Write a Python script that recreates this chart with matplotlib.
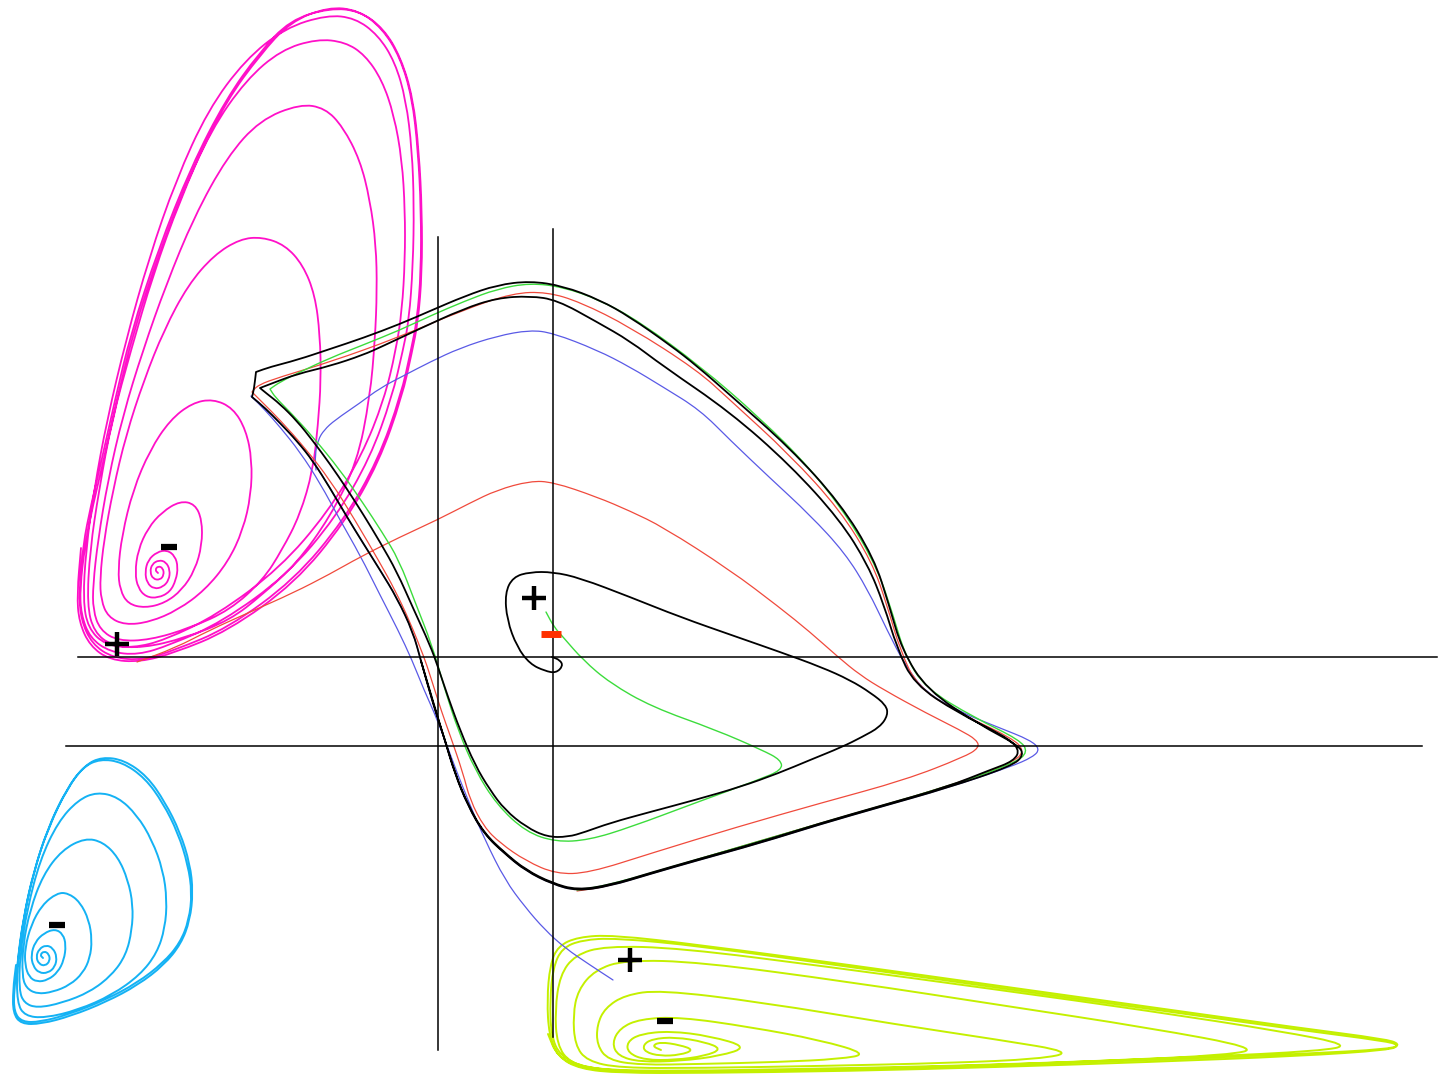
import numpy as np
import matplotlib.pyplot as plt
from matplotlib.path import Path
from matplotlib.patches import PathPatch

# phase portrait, coordinates (x right, y down)

magenta_spiral = [
    (158, 573), (155, 570), (158, 566), (163, 568), (164, 575), (160, 580), (153, 579), (150, 572),
    (152, 564), (159, 560), (166, 562), (170, 570), (169, 580), (163, 587), (154, 589), (147, 583),
    (145, 572), (148, 560), (157, 552), (167, 550), (175, 556), (178, 567), (176, 580), (170, 592),
    (158, 598), (146, 597), (138, 588), (135, 573),
    (138, 550), (148, 528), (162, 512), (180, 501), (195, 504), (202, 520), (202, 545), (195, 570),
    (182, 590), (165, 603), (145, 608), (128, 604), (120, 590), (118, 570),
    (122, 535), (133, 490), (150, 450), (170, 420), (192, 403), (213, 399), (233, 408), (246, 430),
    (252, 460), (251, 495), (243, 530), (228, 562), (205, 590), (178, 610), (150, 622), (125, 625),
    (108, 617), (101, 600), (100, 578),
    (104, 540), (113, 490), (126, 435), (144, 380), (164, 330), (188, 285), (214, 255), (240, 239),
    (262, 237), (285, 245), (303, 265), (315, 295), (320, 335), (321, 380), (318, 425), (313, 470),
    (300, 515), (282, 550), (263, 580), (230, 610), (190, 628), (150, 640), (118, 641), (100, 630),
    (93, 610), (93, 585),
    (98, 540), (108, 480), (123, 415), (143, 350), (166, 285), (194, 217), (227, 157), (260, 120),
    (300, 104), (325, 108), (343, 127), (360, 160), (370, 200), (376, 245), (377, 290), (375, 340),
    (370, 397), (357, 463), (330, 517), (297, 563), (262, 595), (230, 620), (185, 638), (143, 648),
    (112, 646), (94, 632), (87, 605),
    (90, 550), (99, 490), (112, 420), (131, 350), (153, 275), (180, 200), (211, 130), (246, 80),
    (281, 50), (317, 39), (345, 42), (365, 55), (382, 80), (394, 115), (402, 160), (405, 210),
    (405, 260), (402, 310), (396, 350), (384, 400), (362, 455), (328, 512), (280, 568), (217, 615),
    (165, 640), (133, 648), (105, 645), (88, 628), (83, 600),
    (86, 550), (94, 490), (107, 420), (126, 340), (149, 258), (176, 180), (208, 110), (245, 60),
    (285, 28), (327, 15), (355, 18), (378, 35), (395, 62), (406, 100), (412, 150), (414, 205),
    (413, 265), (409, 320), (403, 350), (392, 397), (370, 458), (336, 517), (287, 575), (222, 622),
    (170, 645), (138, 655), (110, 652), (90, 638), (81, 614), (80, 588),
    (85, 545), (93, 505), (103, 463), (117, 400), (133, 333), (160, 250), (193, 167), (227, 100),
    (260, 55), (290, 22), (328, 7), (358, 10), (382, 28), (400, 57), (412, 97), (418, 150),
    (421, 210), (421, 272), (417, 320), (411, 350), (401, 395), (378, 460), (344, 520), (294, 580),
    (228, 628), (175, 650), (143, 660), (113, 658), (92, 644), (81, 620), (79, 592),
    (83, 545), (91, 505), (101, 463), (115, 400), (131, 333), (158, 250), (191, 167), (226, 99),
    (259, 53), (290, 20), (330, 8), (360, 11), (384, 29), (401, 58), (413, 98), (419, 152),
    (422, 212), (422, 273), (418, 322), (412, 352), (402, 397), (379, 462), (345, 522), (295, 583),
    (228, 631), (174, 653), (140, 662), (110, 660), (90, 646), (79, 622), (77, 594), (81, 548),
]

cyan_spiral = [
    (43, 958), (40, 955), (44, 951), (49, 954), (50, 961), (45, 966), (39, 964), (36, 957),
    (39, 949), (46, 945), (53, 948), (57, 957), (55, 967), (48, 973), (39, 973), (33, 966),
    (31, 955), (35, 942), (44, 933), (55, 929), (63, 934), (66, 945), (64, 960), (58, 972),
    (48, 980), (37, 982), (29, 977), (25, 965),
    (25, 948), (31, 925), (42, 905), (57, 893), (68, 893), (80, 902), (89, 920), (92, 940),
    (90, 958), (83, 973), (70, 985), (53, 992), (37, 994), (26, 988), (22, 975),
    (23, 945), (30, 910), (43, 875), (62, 850), (85, 838), (103, 842), (118, 857), (128, 880),
    (133, 905), (132, 930), (126, 955), (112, 975), (90, 992), (62, 1003), (37, 1008), (24, 1003),
    (19, 990),
    (20, 955), (27, 910), (40, 860), (58, 822), (78, 800), (97, 792), (118, 797), (137, 815),
    (152, 840), (163, 870), (167, 900), (165, 928), (157, 953), (140, 975), (112, 995), (78, 1010),
    (45, 1018), (25, 1016), (17, 1003),
    (17, 965), (23, 920), (33, 875), (47, 830), (66, 790), (83, 767), (100, 759), (122, 762),
    (145, 778), (163, 803), (178, 833), (188, 865), (192, 893), (189, 920), (180, 943), (163, 963),
    (137, 983), (105, 1000), (70, 1014), (40, 1022), (22, 1022), (14, 1012), (14, 990),
    (18, 960), (24, 915), (34, 870), (49, 826), (68, 787), (85, 765), (102, 757), (124, 760),
    (147, 776), (165, 802), (180, 832), (190, 864), (193, 892), (190, 920), (181, 944), (164, 965),
    (138, 985), (106, 1002), (71, 1016), (41, 1024), (21, 1024), (13, 1013), (13, 990), (16, 965),
]

yellow_spiral = [
    (661, 1050), (652, 1046), (660, 1042), (680, 1045), (694, 1050), (680, 1055), (660, 1056),
    (645, 1052), (643, 1045), (652, 1039), (675, 1037), (705, 1042), (722, 1049), (705, 1056),
    (675, 1060), (645, 1060), (628, 1053), (627, 1042), (640, 1034),
    (670, 1031), (710, 1036), (748, 1047), (720, 1056), (680, 1061), (640, 1062), (618, 1056),
    (612, 1043), (620, 1028), (640, 1019),
    (680, 1017), (750, 1027), (820, 1040), (868, 1054), (840, 1059), (780, 1062), (700, 1064),
    (640, 1065), (608, 1060), (597, 1045), (597, 1025), (605, 1008), (625, 995),
    (660, 990), (760, 1002), (900, 1025), (1000, 1040), (1073, 1052), (1040, 1059), (950, 1063),
    (820, 1066), (700, 1068), (620, 1068), (587, 1061), (575, 1045), (573, 1015), (578, 990),
    (595, 970), (625, 960),
    (700, 962), (850, 982), (1000, 1005), (1150, 1028), (1258, 1048), (1230, 1055), (1100, 1061),
    (950, 1066), (800, 1069), (680, 1071), (600, 1070), (570, 1063), (557, 1045), (555, 1010),
    (560, 975), (575, 955), (605, 946),
    (680, 948), (830, 967), (1000, 990), (1150, 1011), (1280, 1031), (1351, 1045), (1320, 1051),
    (1200, 1057), (1050, 1063), (900, 1068), (750, 1071), (640, 1072), (585, 1068), (560, 1056),
    (551, 1035), (550, 1000), (553, 968), (562, 948), (582, 940), (615, 938),
    (700, 946), (850, 967), (1000, 988), (1150, 1009), (1300, 1030), (1385, 1041), (1399, 1045),
    (1390, 1050), (1300, 1056), (1150, 1062), (1000, 1067), (850, 1071), (700, 1073), (620, 1073),
    (580, 1069), (558, 1057), (549, 1035), (547, 1000), (550, 965), (558, 946), (578, 937),
    (613, 935),
    (700, 945), (850, 965), (1000, 986), (1150, 1007), (1300, 1028), (1385, 1039), (1400, 1044),
    (1392, 1049), (1300, 1054), (1150, 1060), (1000, 1065), (850, 1070), (700, 1072), (620, 1072),
    (580, 1068), (557, 1056), (548, 1034),
]

# a repeated point keeps a sharp corner in the drawn curve
blue_orbit = [
    (316, 470), (315, 455), (318, 440), (324, 430), (335, 420), (360, 403), (380, 388), (405, 375),
    (430, 362), (460, 348), (497, 336), (530, 330), (553, 333), (597, 350), (630, 367), (663, 387),
    (700, 410), (730, 440), (770, 478), (810, 515), (845, 553), (868, 590), (887, 630), (905, 665),
    (925, 692), (960, 712), (1000, 728), (1030, 740), (1040, 749), (1033, 757), (1010, 767),
    (947, 788), (880, 807), (821, 824), (760, 843), (695, 861), (650, 874), (610, 886), (577, 891),
    (552, 884), (526, 871), (505, 854), (484, 834), (468, 806), (455, 774), (445, 741), (434, 708),
    (421, 661), (413, 632), (397, 598), (380, 570), (363, 543), (347, 517), (330, 488), (313, 461),
    (297, 441), (280, 423), (265, 408), (251, 396), (251, 396), (265, 410), (280, 427), (300, 452),
    (320, 483), (340, 520), (360, 555), (380, 595), (398, 630), (412, 660), (424, 690), (434, 712),
    (445, 740), (456, 770), (470, 805), (485, 840), (505, 880), (525, 907), (545, 930), (565, 948),
    (590, 965), (613, 980),
]

red_orbit = [
    (137, 662), (175, 648), (210, 630), (250, 612), (293, 593), (330, 574), (360, 557), (400, 537),
    (437, 520), (470, 503), (497, 490), (530, 481), (553, 482), (597, 497), (630, 511), (663, 527),
    (730, 570), (779, 607), (810, 632), (838, 657), (860, 675), (884, 690), (926, 713), (960, 730),
    (977, 740), (979, 748), (964, 757), (905, 780), (821, 803), (737, 827), (652, 853), (589, 873),
    (556, 874), (526, 861), (500, 843), (484, 827), (470, 800), (463, 773), (450, 735), (442, 713),
    (430, 675), (424, 657), (410, 622), (395, 590), (380, 563), (355, 520), (330, 480), (305, 448),
    (280, 420), (262, 402), (252, 392), (252, 392), (258, 385), (280, 377), (330, 362), (397, 338),
    (463, 310), (513, 293), (547, 292), (580, 302), (630, 327), (697, 370), (730, 400), (790, 455),
    (840, 510), (872, 562), (887, 605), (900, 650), (918, 688), (965, 716), (1012, 738),
    (1025, 751), (1012, 763), (947, 787), (821, 823), (695, 860), (610, 886), (577, 891),
]

green_orbit = [
    (546, 612), (554, 627), (563, 637), (583, 660), (610, 683), (652, 707), (716, 730), (762, 750),
    (781, 760), (782, 770), (758, 780), (695, 803), (631, 827), (589, 840), (556, 842), (526, 832),
    (497, 805), (475, 770), (458, 730), (445, 690), (432, 645), (415, 602), (399, 560), (382, 532),
    (363, 503), (340, 470), (313, 437), (290, 412), (275, 397), (270, 389), (270, 389), (280, 382),
    (300, 372), (330, 358), (363, 345), (400, 330), (430, 316), (465, 301), (497, 289), (530, 283),
    (563, 287), (600, 300), (640, 322), (700, 366), (760, 418), (810, 468), (850, 520), (878, 570),
    (893, 615), (905, 655), (925, 688), (975, 718), (1020, 740), (1028, 752), (1015, 763),
    (947, 787), (821, 823), (695, 860), (610, 885), (577, 890),
]

black_orbit = [
    (552, 657), (560, 660), (563, 666), (556, 673), (545, 671), (530, 664), (517, 647), (507, 620),
    (505, 593), (513, 577), (530, 572), (553, 572), (580, 578), (630, 597), (680, 617), (737, 637),
    (780, 652), (821, 667), (850, 680), (871, 693), (886, 705), (888, 715), (880, 727), (862, 737),
    (842, 747), (810, 760), (779, 773), (740, 787), (695, 800), (650, 812), (610, 823), (585, 832),
    (568, 837), (547, 837), (526, 827), (505, 810), (490, 790), (475, 765), (460, 730), (448, 697),
    (438, 667), (430, 645), (413, 608), (397, 572), (380, 542), (363, 514), (347, 489), (330, 464),
    (313, 441), (297, 421), (280, 404), (266, 393), (260, 388), (260, 388), (273, 383), (297, 374),
    (330, 366), (363, 355), (383, 346), (417, 330), (463, 309), (497, 298), (530, 296), (557, 300),
    (597, 322), (630, 341), (663, 366), (730, 412), (790, 465), (840, 520), (868, 565), (884, 605),
    (897, 648), (914, 684), (958, 713), (1003, 735), (1020, 749), (1014, 761), (990, 770),
    (947, 787), (880, 806), (821, 823), (760, 842), (695, 860), (650, 873), (610, 885), (577, 890),
    (552, 883), (526, 870), (505, 853), (484, 833), (468, 805), (455, 773), (445, 740), (434, 707),
    (421, 661), (413, 632), (397, 598), (380, 570), (363, 543), (347, 517), (330, 488), (313, 461),
    (297, 441), (280, 423), (265, 408), (252, 397), (252, 397), (254, 389), (256, 372), (256, 372),
    (270, 367), (297, 360), (330, 349), (363, 338), (400, 324), (430, 311), (465, 296), (497, 285),
    (530, 281), (563, 286), (600, 300), (630, 317), (670, 345), (697, 366), (730, 395), (790, 448),
    (840, 503), (874, 558), (889, 605), (902, 650), (927, 690), (980, 725), (1018, 745),
    (1024, 755), (1012, 766), (947, 788), (880, 807), (821, 824), (760, 843), (695, 861),
    (650, 874), (610, 886), (577, 891), (552, 884), (526, 871), (505, 854), (484, 834), (468, 806),
    (455, 774), (445, 741), (435, 708), (421, 661),
]

# straight reference lines: (y, x_start, x_end) and (x, y_start, y_end)
h_lines = [(657, 78, 1437), (746, 66, 1422)]
v_lines = [(438, 237, 1050), (553, 229, 1037)]

# equilibrium markers
plus_x = [117, 534, 630]
plus_y = [644, 598, 960]
minus_x = [169, 57, 665]
minus_y = [547, 925, 1021]
red_minus = (551, 634)

fig = plt.figure(figsize=(14.39, 10.78), dpi=100)
ax = fig.add_axes([0, 0, 1, 1])
ax.set_xlim(0, 1439)
ax.set_ylim(1078, 0)
ax.axis('off')


def draw(points, color, lw):
    # quadratic pieces between midpoints, so the traced polygon renders as a smooth curve
    p = np.array(points, dtype=float)
    mids = (p[:-1] + p[1:]) / 2
    verts = [p[0], mids[0]]
    codes = [Path.MOVETO, Path.LINETO]
    for i in range(1, len(p) - 1):
        verts += [p[i], mids[i]]
        codes += [Path.CURVE3, Path.CURVE3]
    verts.append(p[-1])
    codes.append(Path.LINETO)
    ax.add_patch(PathPatch(Path(verts, codes), fill=False, edgecolor=color, lw=lw,
                           joinstyle='round', capstyle='round'))


draw(magenta_spiral, '#ff10c8', 1.3)
draw(cyan_spiral, '#14b2f4', 1.4)
draw(yellow_spiral, '#c4f000', 1.4)

draw(blue_orbit, '#5a5ae6', 0.9)
draw(red_orbit, '#f04a3c', 0.9)
draw(green_orbit, '#3cdc3c', 1.0)
draw(black_orbit, 'black', 1.3)

for y, x0, x1 in h_lines:
    ax.plot([x0, x1], [y, y], color='black', lw=1.1)
for x, y0, y1 in v_lines:
    ax.plot([x, x], [y0, y1], color='black', lw=1.1)

ax.plot(plus_x, plus_y, ls='none', marker='+', ms=17, mew=3.2, color='black')
ax.plot(minus_x, minus_y, ls='none', marker='_', ms=11, mew=4.5, color='black')
ax.plot([red_minus[0]], [red_minus[1]], ls='none', marker='_', ms=14, mew=5, color='#ff3000')

fig.savefig('out.png', dpi=100, facecolor='white')
